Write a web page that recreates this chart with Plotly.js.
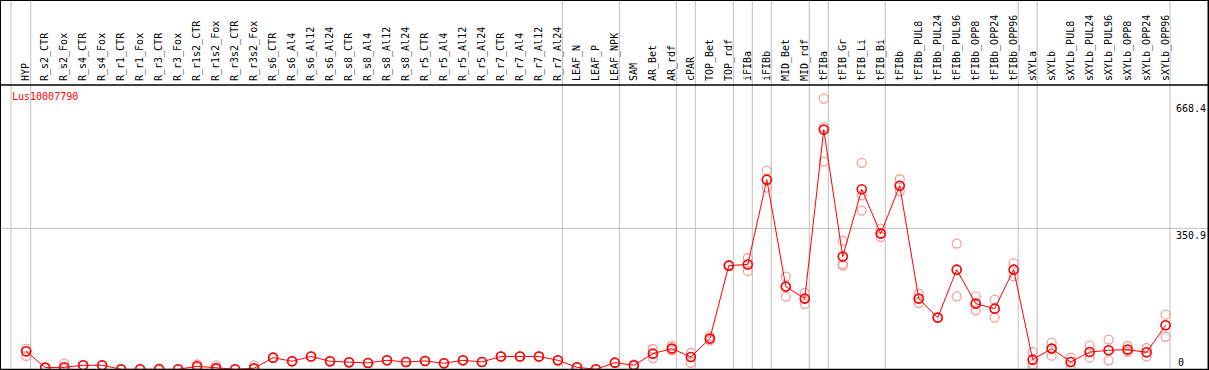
<!DOCTYPE html>
<html>
<head>
<meta charset="utf-8">
<script src="https://cdn.plot.ly/plotly-3.0.1.min.js"></script>
<style>html,body{margin:0;padding:0;background:#fff;}#chart{width:1209px;height:370px;}</style>
</head>
<body>
<div id="chart"></div>
<script>
const categories = ["HYP","R_s2_CTR","R_s2_Fox","R_s4_CTR","R_s4_Fox","R_r1_CTR","R_r1_Fox","R_r3_CTR","R_r3_Fox","R_r1s2_CTR","R_r1s2_Fox","R_r3s2_CTR","R_r3s2_Fox","R_s6_CTR","R_s6_Al4","R_s6_Al12","R_s6_Al24","R_s8_CTR","R_s8_Al4","R_s8_Al12","R_s8_Al24","R_r5_CTR","R_r5_Al4","R_r5_Al12","R_r5_Al24","R_r7_CTR","R_r7_Al4","R_r7_Al12","R_r7_Al24","LEAF_N","LEAF_P","LEAF_NPK","SAM","AR_Bet","AR_rdf","cPAR","TOP_Bet","TOP_rdf","iFIBa","iFIBb","MID_Bet","MID_rdf","tFIBa","tFIB_Gr","tFIB_Li","tFIB_Bi","tFIBb","tFIBb_PUL8","tFIBb_PUL24","tFIBb_PUL96","tFIBb_OPP8","tFIBb_OPP24","tFIBb_OPP96","sXYLa","sXYLb","sXYLb_PUL8","sXYLb_PUL24","sXYLb_PUL96","sXYLb_OPP8","sXYLb_OPP24","sXYLb_OPP96"];

const meanValues = [44.8,4.2,5,10,10,0,0,0,0,7.5,3,0,2.5,29,20,32,20,17.4,15.8,22.4,18.3,20.7,15,22.4,18.3,32,32,32,22.4,5,0,16.6,10,39,51.5,30.7,76.4,258,261,472,205.8,176,596.6,280.5,448,337.7,457,176,128.7,248,163.5,151,248,24,51.5,18.3,43,47.3,49,42.3,109.5];

const repA = [51.5,4.2,14,10,10,0,0,2,0,12,10,0,10,29,20,32,20,17.4,15.8,22.4,18.3,20.7,15,22.4,18.3,32,32,32,22.4,5,0,16.6,12,50.5,58,40.6,82,258,277,494.5,230.7,190,673.7,320,514,350,473,188,128.7,312.8,181.7,173.5,263.8,43,66.4,29,59,74,58,53,136];
const repB = [33,4.2,2,10,10,0,0,0,0,4,0,0,0,29,20,32,20,17.4,15.8,22.4,18.3,20.7,15,22.4,18.3,32,32,32,22.4,5,0,16.6,8,28,47,15.8,72,260,244.7,452,181,162.5,516.9,258,395,329,443,165,128.7,181.7,146.8,128.7,231.5,12.4,34,4,29,22.4,43,32,81];
const repC = [44.8,4.2,5,10,10,0,0,0,0,7.5,3,0,2.5,29,20,32,20,17.4,15.8,22.4,18.3,20.7,15,22.4,18.3,32,32,32,22.4,5,0,16.6,10,39,51.5,30.7,76.4,258,261,472,205.8,176,603,262,433,337.7,457,176,128.7,248,163.5,151,248,4,51.5,18.3,43,47.3,49,42.3,109.5];

const groupBoundaries = [-1, 0, 28, 31, 34, 35, 37, 38, 39, 41, 42, 45, 52, 53, 60];
const geneName = "Lus10007790";
const scaleTicks = [668.4, 350.9, 0];

const idx = categories.map((c, i) => i);
const font = "DejaVu Sans Mono, monospace";
const lightRed = "#f0a0a0";

const repTrace = (vals) => ({
  x: idx, y: vals, type: "scatter", mode: "markers", hoverinfo: "skip",
  marker: {symbol: "circle-open", size: 9, color: lightRed, line: {width: 1.3, color: lightRed}},
  showlegend: false
});

const traces = [
  repTrace(repA), repTrace(repB), repTrace(repC),
  {
    x: idx, y: meanValues, type: "scatter", mode: "lines+markers",
    line: {color: "#ff0000", width: 1},
    marker: {symbol: "circle-open", size: 9, color: "#ff0000", line: {width: 1.6, color: "#ff0000"}},
    showlegend: false
  }
];

const shapes = [];
groupBoundaries.forEach(b => {
  const xv = b === -1 ? -0.8 : b + 0.237;
  shapes.push({type: "line", xref: "x", yref: "paper", x0: xv, x1: xv, y0: 0, y1: 1.3,
    line: {color: "#c0c0c0", width: 1}, layer: "below"});
});
shapes.push({type: "line", xref: "paper", yref: "y", x0: 0, x1: 1, y0: scaleTicks[1], y1: scaleTicks[1],
  line: {color: "#c0c0c0", width: 1}, layer: "below"});
shapes.push({type: "line", xref: "paper", yref: "paper", x0: 0, x1: 1, y0: 1, y1: 1,
  line: {color: "#000", width: 1.5}});
shapes.push({type: "rect", xref: "paper", yref: "paper", x0: 0, x1: 0.9996, y0: 0.0012, y1: 1.298,
  line: {color: "#000", width: 2}});

const annotations = [
  {xref: "paper", yref: "paper", x: 10/1209, y: (370-96.7)/285, xanchor: "left", yanchor: "middle",
   text: geneName, showarrow: false, font: {family: font, size: 10, color: "#ff0000"}},
  {xref: "paper", yref: "y", x: 1174/1209, y: scaleTicks[0], xanchor: "left", yanchor: "top",
   text: String(scaleTicks[0]), showarrow: false, font: {family: font, size: 10, color: "#000"}},
  {xref: "paper", yref: "y", x: 1174/1209, y: scaleTicks[1], xanchor: "left", yanchor: "top",
   text: String(scaleTicks[1]), showarrow: false, font: {family: font, size: 10, color: "#000"}},
  {xref: "paper", yref: "paper", x: 1176/1209, y: (370-362)/285, xanchor: "left", yanchor: "middle",
   text: String(scaleTicks[2]), showarrow: false, font: {family: font, size: 10, color: "#000"}}
];

const layout = {
  width: 1209, height: 370,
  margin: {l: 0, r: 0, t: 85, b: 0, pad: 0},
  paper_bgcolor: "#fff", plot_bgcolor: "#fff",
  showlegend: false,
  xaxis: {
    side: "top", range: [-1.3797, 62.286], tickmode: "array", tickvals: idx, ticktext: categories,
    tickangle: -90, tickfont: {family: font, size: 10, color: "#000"}, ticks: "", showgrid: false,
    ticklabelstandoff: 3,
    zeroline: false, showline: false, automargin: false, fixedrange: true
  },
  yaxis: {
    range: [-1.74, 707.6], showgrid: false, zeroline: false, showticklabels: false, ticks: "",
    showline: false, fixedrange: true
  },
  shapes: shapes,
  annotations: annotations
};

Plotly.newPlot("chart", traces, layout, {displayModeBar: false, staticPlot: true});
</script>
</body>
</html>
